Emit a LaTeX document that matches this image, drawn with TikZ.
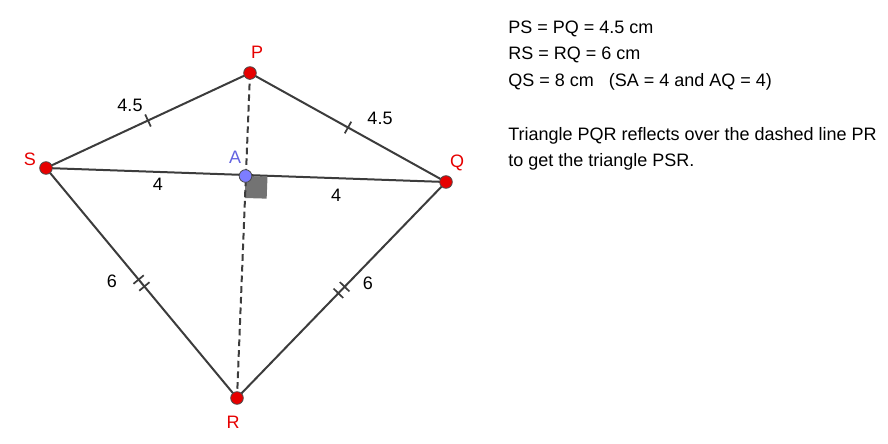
\documentclass[tikz,border=0pt]{standalone}
\usepackage{fontspec}
\setmainfont{Liberation Sans}
\usepackage{tikz}
\usetikzlibrary{calc, positioning}

\definecolor{ptred}{RGB}{230,0,0}
\definecolor{ptblue}{RGB}{125,125,255}
\definecolor{lblblue}{RGB}{100,100,225}
\definecolor{segcol}{RGB}{60,60,60}

\begin{document}
\begin{tikzpicture}[
						x=0.75pt, y=-0.75pt,
						every node/.style={font=\fontsize{13.5}{16}\selectfont},
						seg/.style={draw=segcol, line width=1.5pt},
						pt/.style={circle, fill=ptred, draw=black!70, line width=0.6pt, inner sep=0pt, minimum size=9.5pt},
						ptlabel/.style={text=ptred},
						info/.style={anchor=base west, inner sep=0pt}
				]
    \useasboundingbox (0,0) rectangle (888,443);

    % vertices
    \coordinate (P) at (250,73);
    \coordinate (S) at (46,168);
    \coordinate (Q) at (446,182);
    \coordinate (R) at (237,398);
    \coordinate (A) at (245.5,176);

    % right angle mark at A
    \coordinate (a1) at ($(A)!16.5pt!(Q)$);
    \coordinate (a2) at ($(A)!16.5pt!(R)$);
    \fill[black!55] (A) -- (a1) -- ($(a1)+(a2)-(A)$) -- (a2) -- cycle;

    % sides and diagonals
    \draw[seg] (P) -- (S) -- (R) -- (Q) -- cycle;
    \draw[seg] (S) -- (Q);
    \draw[seg, dashed, dash pattern=on 5pt off 3pt] (P) -- (R);

    % single ticks on PS and PQ
    \foreach \u/\v in {P/S, P/Q} {
        \coordinate (m) at ($(\u)!0.5!(\v)$);
        \draw[segcol, line width=1.3pt] ($(m)!5pt!90:(\u)$) -- ($(m)!5pt!-90:(\u)$);
    }
    % double ticks on RS and RQ
    \foreach \u/\v in {R/S, R/Q} {
        \foreach \t in {0.485, 0.515} {
            \coordinate (m) at ($(\u)!\t!(\v)$);
            \draw[segcol, line width=1.3pt] ($(m)!5pt!90:(\u)$) -- ($(m)!5pt!-90:(\u)$);
        }
    }

    % length labels
    \node (lPS) at (130,105) {4.5};
    \node (lPQ) at (380,118) {4.5};
    \node (lSA) at (158,184) {4};
    \node (lAQ) at (336,195) {4};
    \node (lSR) at (112,281) {6};
    \node (lQR) at (368,283) {6};

    % points
    \node[pt] (nP) at (P) {};
    \node[pt] (nS) at (S) {};
    \node[pt] (nQ) at (Q) {};
    \node[pt] (nR) at (R) {};
    \node[pt, fill=ptblue] (nA) at (A) {};

    \node[ptlabel] (tP) at (257,52) {P};
    \node[ptlabel] (tS) at (30,159) {S};
    \node[ptlabel] (tQ) at (457,163) {Q};
    \node[ptlabel] (tR) at (233,422) {R};
    \node[text=lblblue] (tA) at (235,157) {A};

    % notes on the right
    \node[info] (n1) at (508,33) {PS = PQ = 4.5 cm};
    \node[info] (n2) at (508,59) {RS = RQ = 6 cm};
    \node[info] (n3) at (508,86) {QS = 8 cm \ \ (SA = 4 and AQ = 4)};
    \node[info] (n4) at (508,140) {Triangle PQR reflects over the dashed line PR};
    \node[info] (n5) at (508,166) {to get the triangle PSR.};

  \end{tikzpicture}
\end{document}
